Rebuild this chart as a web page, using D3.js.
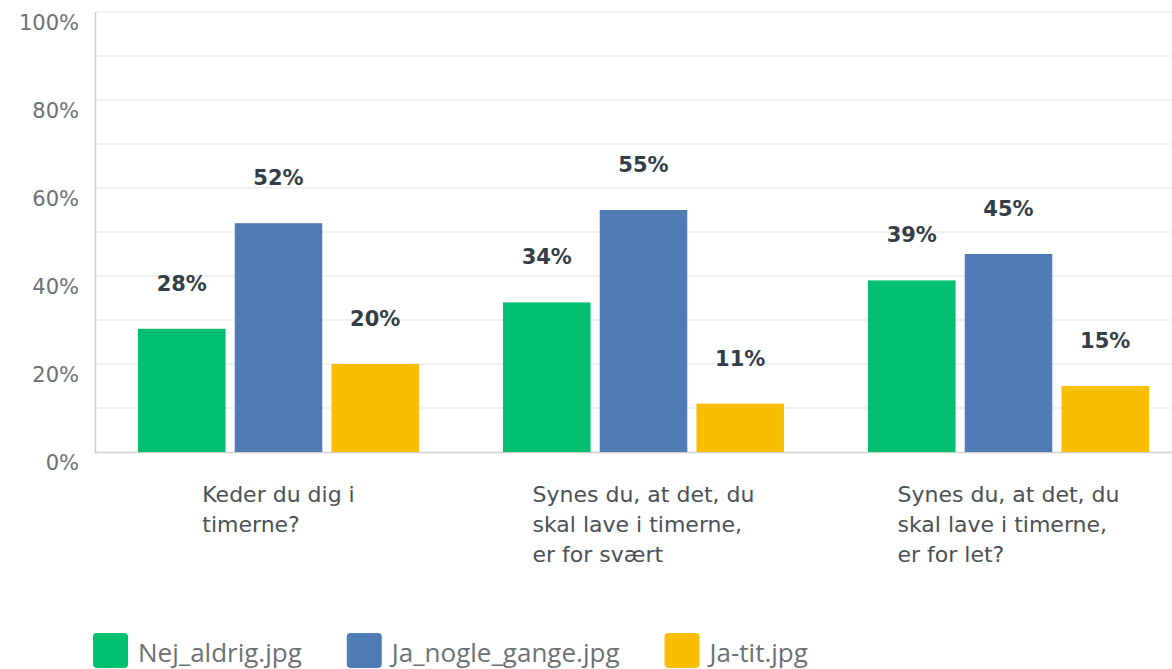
<!DOCTYPE html>
<html>
<head>
<meta charset="utf-8">
<script src="https://cdn.jsdelivr.net/npm/d3@7"></script>
<style>
  body { margin: 0; background: #fff; }
  svg { display: block; }
</style>
</head>
<body>
<div id="chart"></div>
<script>
// data
var categories = [
    ["Keder du dig i", "timerne?"],
    ["Synes du, at det, du", "skal lave i timerne,", "er for svært"],
    ["Synes du, at det, du", "skal lave i timerne,", "er for let?"]
];
var series = ["Nej_aldrig.jpg", "Ja_nogle_gange.jpg", "Ja-tit.jpg"];
var colors = ["#00bf6f", "#507cb6", "#f9be00"];
// values by series, one per category
var nej = [28, 34, 39];
var ja_nogle = [52, 55, 45];
var ja_tit = [20, 11, 15];
var seriesValues = [nej, ja_nogle, ja_tit];
var yTicks = [0, 20, 40, 60, 80, 100];

var width = 1172, height = 669;
var svg = d3.select('#chart').append('svg')
    .attr('width', width).attr('height', height);

var x0 = d3.scaleBand().domain(d3.range(categories.length))
    .range([96, 1191]);
var x1 = d3.scaleBand().domain(d3.range(series.length))
    .range([42, 365 - 42]).paddingInner(0.095);
var y = d3.scaleLinear().domain([0, 100]).range([452, 12]);

// gridlines every 10%
svg.append('g').selectAll('line')
    .data(d3.range(10, 101, 10)).enter().append('line')
    .attr('x1', 96).attr('x2', width)
    .attr('y1', function(d) { return y(d); })
    .attr('y2', function(d) { return y(d); })
    .attr('stroke', '#ececec').attr('stroke-width', 1.5);

// y axis labels
svg.append('g').selectAll('text')
    .data(yTicks).enter().append('text')
    .attr('x', 79).attr('y', function(d) { return y(d) + 18; })
    .attr('text-anchor', 'end')
    .attr('font-family', '"DejaVu Sans", sans-serif')
    .attr('font-size', '21px')
    .attr('fill', '#6b7175')
    .text(function(d) { return d + '%'; });

// axis lines
svg.append('line').attr('x1', 95.5).attr('x2', 95.5).attr('y1', 12).attr('y2', 453)
    .attr('stroke', '#d0d0d0').attr('stroke-width', 1.5);
svg.append('line').attr('x1', 95).attr('x2', width).attr('y1', 452.5).attr('y2', 452.5)
    .attr('stroke', '#d0d0d0').attr('stroke-width', 1.5);

// groups
var groups = svg.selectAll('g.cat')
    .data(categories).enter().append('g')
    .attr('class', 'cat')
    .attr('transform', function(d, i) { return 'translate(' + x0(i) + ',0)'; });

groups.each(function(cat, ci) {
    var g = d3.select(this);
    series.forEach(function(s, si) {
        var v = seriesValues[si][ci];
        g.append('rect')
            .attr('x', x1(si)).attr('width', x1.bandwidth())
            .attr('y', y(v)).attr('height', y(0) - y(v))
            .attr('fill', colors[si]);
        g.append('text')
            .attr('x', x1(si) + x1.bandwidth() / 2)
            .attr('y', y(v) - 38)
            .attr('text-anchor', 'middle')
            .attr('font-family', '"DejaVu Sans", sans-serif')
            .attr('font-weight', 'bold')
            .attr('font-size', '21px')
            .attr('fill', '#333e48')
            .text(v + '%');
    });
});

// category labels: block centred, lines left-aligned
groups.each(function(cat, ci) {
    var g = d3.select(this);
    var t = g.append('text')
        .attr('font-family', '"DejaVu Sans", sans-serif')
        .attr('font-size', '22px')
        .attr('fill', '#4a5157');
    cat.forEach(function(line, li) {
        t.append('tspan').attr('x', 0).attr('y', 502 + li * 30).text(line);
    });
    var w = t.node().getBBox().width;
    t.attr('transform', 'translate(' + (x0.bandwidth() / 2 - w / 2) + ',0)');
});

// legend (flows left to right)
var lx = 93;
series.forEach(function(s, i) {
    var g = svg.append('g').attr('transform', 'translate(' + lx + ',633)');
    g.append('rect')
        .attr('width', 35).attr('height', 35).attr('rx', 4).attr('ry', 4)
        .attr('fill', colors[i]);
    var t = g.append('text')
        .attr('x', 45).attr('y', 29)
        .attr('font-family', '"Open Sans", sans-serif')
        .attr('font-size', '26px')
        .attr('fill', '#6b7175')
        .text(s);
    lx += 45 + t.node().getComputedTextLength() + 45;
});
</script>
</body>
</html>
